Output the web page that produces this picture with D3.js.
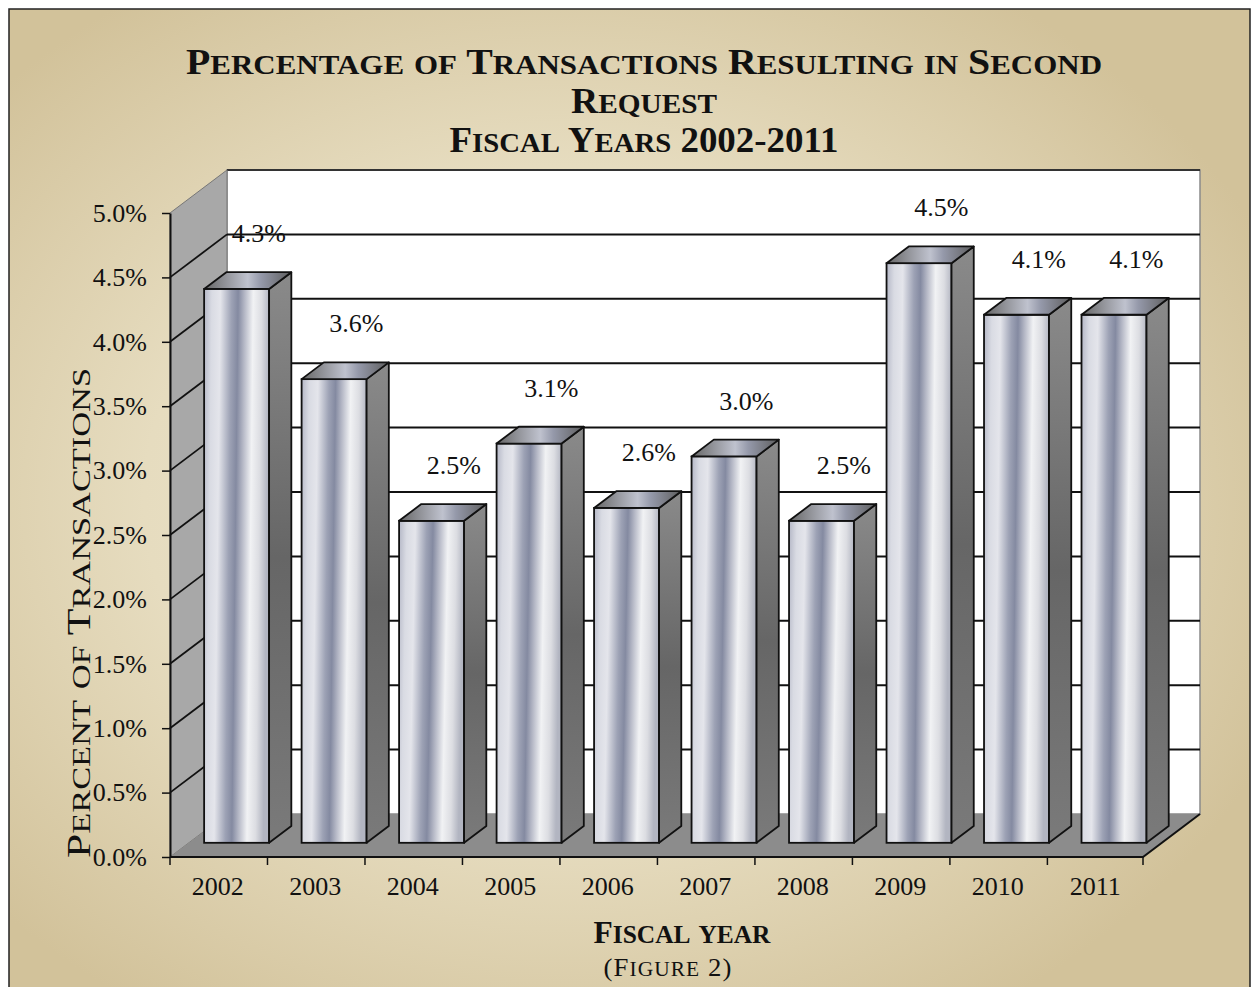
<!DOCTYPE html>
<html>
<head>
<meta charset="utf-8">
<script src="https://cdn.jsdelivr.net/npm/d3@7/dist/d3.min.js"></script>
<style>
body{margin:0;background:#fff}
text{font-family:"Liberation Serif","DejaVu Serif",serif;fill:#111}
</style>
</head>
<body>
<svg id="chart" width="1253" height="987"></svg>
<script>
// data
const years = ["2002","2003","2004","2005","2006","2007","2008","2009","2010","2011"];
const values = [4.3, 3.6, 2.5, 3.1, 2.6, 3.0, 2.5, 4.5, 4.1, 4.1];
const yTickValues = [0, 0.5, 1.0, 1.5, 2.0, 2.5, 3.0, 3.5, 4.0, 4.5, 5.0];
const titleLines = ["Percentage of Transactions Resulting in Second", "Request", "Fiscal Years 2002-2011"];
const yTitle = "Percent of Transactions";
const xTitle = "Fiscal year";
const note = "(Figure 2)";

const W = 1253, H = 987;
const pLeft = 170, pRight = 1143, pTop = 213, pBottom = 857;
const DX = 57, DY = -43;          // depth of the 3d box
const f0 = 0.33, f1 = 0.72;       // bar front / back depth fraction
const numSize = 26;

const svg = d3.select("#chart");
const defs = svg.append("defs");

// background
const bg = defs.append("radialGradient").attr("id","bg")
    .attr("cx","0.45").attr("cy","0.5").attr("r","0.62");
bg.append("stop").attr("offset","0").attr("stop-color","#efe9d6");
bg.append("stop").attr("offset","0.55").attr("stop-color","#e6dcbf");
bg.append("stop").attr("offset","1").attr("stop-color","#d2c29a");

// bar faces
const gFront = defs.append("linearGradient").attr("id","front")
    .attr("x1","0").attr("y1","0").attr("x2","1").attr("y2","0.1");
[[0,"#b4b7c6"],[0.12,"#d9dbe3"],[0.25,"#e4e5eb"],[0.42,"#9da2b5"],[0.52,"#848aa1"],
 [0.62,"#b5b8c6"],[0.75,"#f1f2f4"],[0.88,"#dcdde2"],[1,"#b2b5c1"]]
  .forEach(s=>gFront.append("stop").attr("offset",s[0]).attr("stop-color",s[1]));

const gSide = defs.append("linearGradient").attr("id","side")
    .attr("x1","0").attr("y1","0").attr("x2","0").attr("y2","1");
[[0,"#8a8a8a"],[0.5,"#666"],[1,"#7a7a7a"]]
  .forEach(s=>gSide.append("stop").attr("offset",s[0]).attr("stop-color",s[1]));

const gTop = defs.append("linearGradient").attr("id","topf")
    .attr("x1","0").attr("y1","0").attr("x2","1").attr("y2","0");
[[0,"#666"],[0.5,"#bfc2ce"],[0.65,"#9599aa"],[1,"#5e5e5e"]]
  .forEach(s=>gTop.append("stop").attr("offset",s[0]).attr("stop-color",s[1]));

svg.append("rect").attr("x",9).attr("y",9).attr("width",W-12).attr("height",H-6)
    .attr("fill","url(#bg)").attr("stroke","#222").attr("stroke-width",1.5);

// scales
const x = d3.scaleBand().domain(years).range([pLeft,pRight])
    .paddingInner(1/3).paddingOuter(0.157);
const y = d3.scaleLinear().domain([0,5]).range([pBottom,pTop]);

const P = pts => "M" + pts.map(p=>p.join(",")).join("L") + "Z";

// small caps made by hand: capitals/digits at full size, lower case as smaller capitals
function smallCaps(t, str, big, small) {
  const runs = [];
  for (const ch of str) {
    const isBig = !/[a-z]/.test(ch);
    if (runs.length && runs[runs.length-1].big === isBig) runs[runs.length-1].s += ch;
    else runs.push({big:isBig, s:ch});
  }
  runs.forEach(r => t.append("tspan").attr("font-size", r.big ? big : small).text(r.s.toUpperCase()));
  return t;
}

// walls
const box = svg.append("g");
box.append("rect").attr("x",pLeft+DX).attr("y",pTop+DY)
    .attr("width",pRight-pLeft).attr("height",pBottom-pTop)
    .attr("fill","#fff").attr("stroke","#8a8a8a").attr("stroke-width",1.5);
box.append("line").attr("x1",pLeft+DX).attr("x2",pRight+DX)
    .attr("y1",pTop+DY).attr("y2",pTop+DY).attr("stroke","#333").attr("stroke-width",2);
box.append("path")
    .attr("d",P([[pLeft,pTop],[pLeft+DX,pTop+DY],[pLeft+DX,pBottom+DY],[pLeft,pBottom]]))
    .attr("fill","#a8a8a8").attr("stroke","#777").attr("stroke-width",1);
box.append("path")
    .attr("d",P([[pLeft,pBottom],[pLeft+DX,pBottom+DY],[pRight+DX,pBottom+DY],[pRight,pBottom]]))
    .attr("fill","#8c8c8c");

// gridlines on back wall and side wall
const grid = yTickValues.filter(v=>v>0 && v<5);
box.selectAll(".gback").data(grid).join("line")
    .attr("x1",pLeft+DX).attr("x2",pRight+DX)
    .attr("y1",d=>y(d)+DY).attr("y2",d=>y(d)+DY)
    .attr("stroke","#111").attr("stroke-width",2);
box.selectAll(".gside").data(grid).join("line")
    .attr("x1",pLeft).attr("x2",pLeft+DX)
    .attr("y1",d=>y(d)).attr("y2",d=>y(d)+DY)
    .attr("stroke","#111").attr("stroke-width",1.8);

// bars
const bw = x.bandwidth();
const bars = svg.append("g").selectAll("g").data(years.map((k,i)=>({k,v:values[i]}))).join("g");
bars.append("rect")
    .attr("x",d=>x(d.k)+DX*f0).attr("y",d=>y(d.v)+DY*f0)
    .attr("width",bw).attr("height",d=>y(0)-y(d.v))
    .attr("fill","url(#front)").attr("stroke","#111").attr("stroke-width",1.8);
bars.append("path")
    .attr("d",d=>{const a=x(d.k), yv=y(d.v);
        return P([[a+bw+DX*f0,yv+DY*f0],[a+bw+DX*f1,yv+DY*f1],[a+bw+DX*f1,y(0)+DY*f1],[a+bw+DX*f0,y(0)+DY*f0]]);})
    .attr("fill","url(#side)").attr("stroke","#111").attr("stroke-width",1.8).attr("stroke-linejoin","round");
bars.append("path")
    .attr("d",d=>{const a=x(d.k), yv=y(d.v);
        return P([[a+DX*f0,yv+DY*f0],[a+bw+DX*f0,yv+DY*f0],[a+bw+DX*f1,yv+DY*f1],[a+DX*f1,yv+DY*f1]]);})
    .attr("fill","url(#topf)").attr("stroke","#111").attr("stroke-width",1.8).attr("stroke-linejoin","round");

// value labels
bars.append("text")
    .attr("x",d=>x(d.k)+bw/2+DX*f1)
    .attr("y",d=>y(d.v)+DY*f1-30)
    .attr("text-anchor","middle").attr("font-size",numSize)
    .text(d=>d.v.toFixed(1)+"%");

// y axis
const yAxis = svg.append("g").attr("transform",`translate(${pLeft},0)`)
    .call(d3.axisLeft(y).tickValues(yTickValues).tickSize(8).tickSizeOuter(0).tickPadding(15)
        .tickFormat(d=>d.toFixed(1)+"%"));
yAxis.select(".domain").attr("stroke","#111").attr("stroke-width",2);
yAxis.selectAll(".tick line").attr("stroke","#111").attr("stroke-width",1.5);
yAxis.selectAll(".tick text").attr("font-size",numSize).attr("font-family",null).attr("fill","#111");

// x axis (labels at band centres, ticks at band edges)
const xAxis = svg.append("g").attr("transform",`translate(0,${pBottom})`)
    .call(d3.axisBottom(x).tickSize(0).tickPadding(20));
xAxis.select(".domain").remove();
xAxis.selectAll(".tick text").attr("font-size",numSize).attr("font-family",null).attr("fill","#111");
const edges = years.map((k,i)=>pLeft + i*x.step()).concat([pRight]);
svg.append("g").selectAll("line").data(edges).join("line")
    .attr("x1",d=>d).attr("x2",d=>d).attr("y1",pBottom).attr("y2",pBottom+8)
    .attr("stroke","#111").attr("stroke-width",1.5);
svg.append("path").attr("d",`M${pLeft},${pBottom}L${pRight},${pBottom}L${pRight+DX},${pBottom+DY}`)
    .attr("fill","none").attr("stroke","#111").attr("stroke-width",2);

// titles
const tl = [[74,916],[113,146],[152,389]];
titleLines.forEach((line,i)=>{
  const t = svg.append("text").attr("x",644).attr("y",tl[i][0])
      .attr("text-anchor","middle").attr("font-weight","bold")
      .attr("textLength",tl[i][1]).attr("lengthAdjust","spacingAndGlyphs");
  smallCaps(t, line, 36, 28);
});

smallCaps(svg.append("text").attr("transform","translate(90,613) rotate(-90)")
    .attr("text-anchor","middle")
    .attr("textLength",490).attr("lengthAdjust","spacingAndGlyphs"), yTitle, 33, 26);

smallCaps(svg.append("text").attr("x",682).attr("y",943).attr("text-anchor","middle")
    .attr("font-weight","bold")
    .attr("textLength",177).attr("lengthAdjust","spacingAndGlyphs"), xTitle, 31, 25);

smallCaps(svg.append("text").attr("x",668).attr("y",976).attr("text-anchor","middle")
    .attr("letter-spacing",1)
    .attr("textLength",129).attr("lengthAdjust","spacingAndGlyphs"), note, 25, 20);
</script>
</body>
</html>
